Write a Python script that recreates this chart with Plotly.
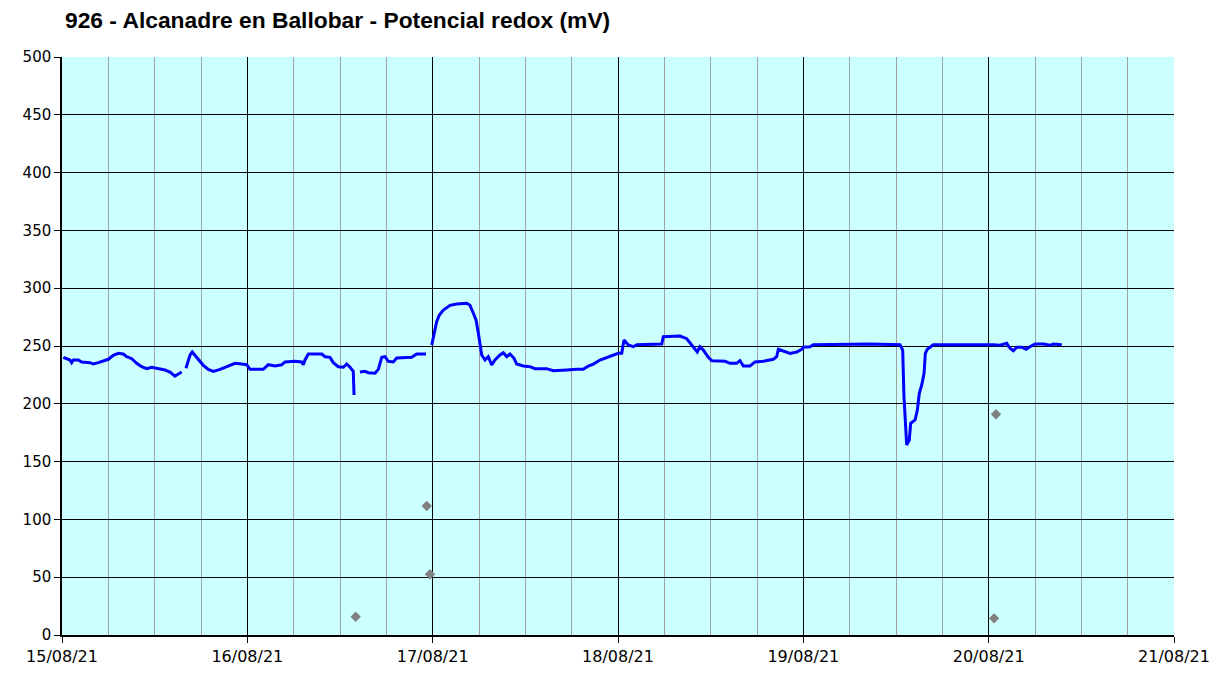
import plotly.graph_objects as go

title_text = "926 - Alcanadre en Ballobar - Potencial redox (mV)"

# Redox potential series (mV); None marks a gap in the record
times = [
    "2021-08-15 00:10", "2021-08-15 01:02", "2021-08-15 01:15", "2021-08-15 01:28", "2021-08-15 02:07",
    "2021-08-15 02:33", "2021-08-15 03:38", "2021-08-15 04:03", "2021-08-15 04:42", "2021-08-15 05:34",
    "2021-08-15 06:00", "2021-08-15 06:39", "2021-08-15 07:17", "2021-08-15 07:56", "2021-08-15 08:23",
    "2021-08-15 09:02", "2021-08-15 09:40", "2021-08-15 10:19", "2021-08-15 10:58", "2021-08-15 11:37",
    "2021-08-15 12:28", "2021-08-15 13:20", "2021-08-15 13:59", "2021-08-15 14:38", "2021-08-15 15:04",
    "2021-08-15 15:30", "2021-08-15 15:45",
    "2021-08-15 16:03", "2021-08-15 16:35", "2021-08-15 16:52", "2021-08-15 17:13", "2021-08-15 17:44",
    "2021-08-15 18:18", "2021-08-15 18:57", "2021-08-15 19:36", "2021-08-15 20:28", "2021-08-15 21:07",
    "2021-08-15 21:45", "2021-08-15 22:24", "2021-08-15 23:16", "2021-08-15 23:55",
    "2021-08-16 00:21", "2021-08-16 02:04", "2021-08-16 02:43", "2021-08-16 03:35", "2021-08-16 04:27",
    "2021-08-16 04:53", "2021-08-16 06:10", "2021-08-16 07:02", "2021-08-16 07:15", "2021-08-16 07:28",
    "2021-08-16 07:54", "2021-08-16 09:38", "2021-08-16 10:04", "2021-08-16 10:42", "2021-08-16 11:08",
    "2021-08-16 11:47", "2021-08-16 12:26", "2021-08-16 12:52", "2021-08-16 13:18", "2021-08-16 13:43",
    "2021-08-16 13:49", "2021-08-16 14:10",
    "2021-08-16 14:35", "2021-08-16 15:14", "2021-08-16 15:40", "2021-08-16 16:32", "2021-08-16 16:58",
    "2021-08-16 17:24", "2021-08-16 17:50", "2021-08-16 18:15", "2021-08-16 18:54", "2021-08-16 19:21",
    "2021-08-16 21:17", "2021-08-16 21:56", "2021-08-16 23:08", "2021-08-16 23:30",
    "2021-08-16 23:53", "2021-08-17 00:18", "2021-08-17 00:31", "2021-08-17 00:52", "2021-08-17 01:23",
    "2021-08-17 02:15", "2021-08-17 03:07", "2021-08-17 04:25", "2021-08-17 04:50", "2021-08-17 05:16",
    "2021-08-17 05:37", "2021-08-17 05:55", "2021-08-17 06:08", "2021-08-17 06:21", "2021-08-17 06:47",
    "2021-08-17 07:12", "2021-08-17 07:39", "2021-08-17 08:04", "2021-08-17 08:43", "2021-08-17 09:09",
    "2021-08-17 09:35", "2021-08-17 10:01", "2021-08-17 10:32", "2021-08-17 10:53", "2021-08-17 11:44",
    "2021-08-17 12:36", "2021-08-17 13:15", "2021-08-17 14:46", "2021-08-17 15:37", "2021-08-17 16:29",
    "2021-08-17 17:21", "2021-08-17 18:39", "2021-08-17 19:30", "2021-08-17 20:09", "2021-08-17 20:48",
    "2021-08-17 21:40", "2021-08-17 22:32", "2021-08-17 23:24",
    "2021-08-18 00:02", "2021-08-18 00:29", "2021-08-18 00:47", "2021-08-18 01:20", "2021-08-18 01:59",
    "2021-08-18 02:25", "2021-08-18 04:34", "2021-08-18 05:40", "2021-08-18 05:52", "2021-08-18 08:02",
    "2021-08-18 08:54", "2021-08-18 09:33", "2021-08-18 10:16", "2021-08-18 10:37", "2021-08-18 11:03",
    "2021-08-18 11:42", "2021-08-18 12:08", "2021-08-18 13:52", "2021-08-18 14:30", "2021-08-18 15:22",
    "2021-08-18 15:48", "2021-08-18 16:14", "2021-08-18 17:06", "2021-08-18 17:45", "2021-08-18 18:49",
    "2021-08-18 20:07", "2021-08-18 20:33", "2021-08-18 20:46", "2021-08-18 21:24", "2021-08-18 22:17",
    "2021-08-18 23:09", "2021-08-18 23:47",
    "2021-08-19 00:00", "2021-08-19 00:52", "2021-08-19 01:18", "2021-08-19 08:38", "2021-08-19 12:31",
    "2021-08-19 12:52", "2021-08-19 13:02", "2021-08-19 13:10", "2021-08-19 13:23", "2021-08-19 13:43",
    "2021-08-19 13:54", "2021-08-19 14:28", "2021-08-19 14:46", "2021-08-19 15:01", "2021-08-19 15:20",
    "2021-08-19 15:38", "2021-08-19 15:48", "2021-08-19 16:03", "2021-08-19 16:50",
    "2021-08-20 00:36", "2021-08-20 01:28", "2021-08-20 02:20", "2021-08-20 02:46", "2021-08-20 03:12",
    "2021-08-20 03:38", "2021-08-20 04:17", "2021-08-20 04:50", "2021-08-20 05:21", "2021-08-20 06:00",
    "2021-08-20 07:05", "2021-08-20 07:57", "2021-08-20 08:22", "2021-08-20 09:28",
]
values = [
    240.2, 237.9, 235.6, 237.9, 237.9,
    236.2, 235.6, 234.4, 235.6, 237.3,
    238.5, 242.0, 243.7, 243.1, 240.7,
    239.0, 235.0, 232.1, 230.4, 231.6,
    230.4, 229.2, 227.5, 224.0, 225.8,
    227.5, None,
    230.7, 242.2, 244.8, 242.0, 237.3,
    233.3, 229.8, 228.1, 229.8, 231.6,
    233.8, 235.0, 234.4, 233.8,
    229.8, 229.8, 233.8, 232.7, 233.8,
    236.2, 236.8, 236.2, 233.8, 237.9,
    243.1, 243.1, 240.7, 240.2, 235.6,
    232.1, 231.6, 234.4, 231.6, 228.1,
    207.6, None,
    227.5, 228.1, 226.9, 226.4, 229.8,
    240.2, 240.7, 236.8, 236.2, 239.6,
    240.2, 243.1, 243.1, None,
    250.9, 262.4, 271.0, 276.8, 281.1,
    285.2, 286.3, 286.9, 285.2, 278.3,
    272.5, 261.0, 249.4, 242.2, 237.9,
    240.7, 233.6, 237.9, 242.2, 244.2,
    240.7, 243.1, 239.4, 234.4, 232.7,
    232.1, 230.4, 230.4, 228.6, 229.2,
    229.2, 229.8, 229.8, 232.7, 234.4,
    237.9, 240.2, 242.2,
    243.7, 243.7, 255.2, 250.9, 249.4,
    251.1, 251.1, 251.7, 258.0, 258.6,
    256.3, 250.9, 244.8, 249.4, 246.5,
    240.2, 237.3, 236.8, 235.0, 235.0,
    237.3, 232.7, 232.7, 236.2, 236.8,
    238.5, 240.7, 247.1, 245.4, 243.5,
    244.8, 247.1,
    248.9, 249.4, 251.1, 251.7, 251.1,
    246.5, 206.1, 186.0, 164.4, 168.7,
    183.1, 186.0, 194.6, 209.1, 216.3,
    226.4, 243.7, 247.1, 251.1,
    251.1, 250.6, 252.3, 248.0, 245.9,
    248.9, 248.9, 247.1, 249.4, 251.7,
    251.7, 250.6, 251.7, 251.1,
]

# Isolated readings shown as grey diamonds
dot_times = ["2021-08-16 14:02", "2021-08-16 23:14", "2021-08-16 23:39", "2021-08-20 00:57", "2021-08-20 00:42"]
dot_values = [15.8, 111.6, 52.5, 190.9, 14.4]

x_range = ["2021-08-15 00:00", "2021-08-21 00:00"]
y_range = [0, 500]

fig = go.Figure()
fig.add_trace(go.Scatter(
    x=times, y=values, mode="lines", connectgaps=False,
    line=dict(color="#0000FF", width=3), hoverinfo="x+y", showlegend=False,
))
fig.add_trace(go.Scatter(
    x=dot_times, y=dot_values, mode="markers",
    marker=dict(symbol="diamond", size=8, color="#808080"), showlegend=False,
))

fig.update_layout(
    width=1232, height=675,
    margin=dict(l=62, r=58, t=57, b=40, autoexpand=False),
    paper_bgcolor="#FFFFFF",
    plot_bgcolor="#CCFFFF",
    title=dict(text="<b>" + title_text + "</b>", x=65 / 1232, xanchor="left",
               y=1 - 20 / 675, yanchor="middle",
               font=dict(family="Liberation Sans", size=22.8, color="#000000")),
    font=dict(family="DejaVu Sans", size=15, color="#000000"),
)
fig.update_xaxes(
    type="date", range=x_range, dtick=86400000, tickformat="%d/%m/%y",
    showgrid=True, gridcolor="#000000", gridwidth=1,
    minor=dict(dtick=21600000, showgrid=True, gridcolor="#A0A0A0", gridwidth=1),
    ticks="outside", ticklen=6, tickcolor="#000000",
    showline=True, linecolor="#000000", linewidth=1.5, mirror=False,
    tickfont=dict(family="DejaVu Sans", size=16), zeroline=False, automargin=False,
)
fig.update_yaxes(
    range=y_range, dtick=50, tick0=0,
    showgrid=True, gridcolor="#000000", gridwidth=1,
    ticks="outside", ticklen=6, tickcolor="#000000",
    showline=True, linecolor="#000000", linewidth=1.5,
    tickfont=dict(family="DejaVu Sans", size=15), zeroline=False, automargin=False,
)

fig.write_html("out.html", config={"displayModeBar": False},
               post_script="document.body.style.margin='0';")
